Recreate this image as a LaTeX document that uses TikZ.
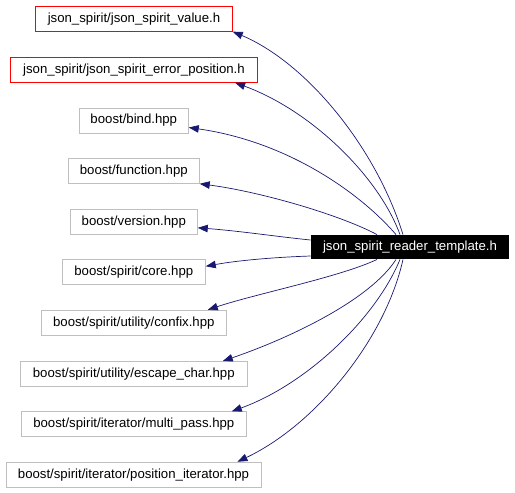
\documentclass[tikz,border=0pt]{standalone}
\usepackage{fontspec}
\setmainfont{Liberation Sans}
\usetikzlibrary{arrows.meta}
\definecolor{edgeblue}{HTML}{191970}
\definecolor{boxgray}{HTML}{BFBFBF}
\tikzset{
  base/.style={rectangle, inner sep=0pt, minimum height=25pt, font=\fontsize{13.2}{15}\selectfont, line width=0.9pt},
  redbox/.style={base, draw=red},
  graybox/.style={base, draw=boxgray},
  mainbox/.style={base, fill=black, text=white, minimum height=24pt},
  edge/.style={draw=edgeblue, line width=0.7pt, -{Triangle[length=10pt,width=7.5pt]}},
}
\begin{document}
\begin{tikzpicture}[x=1pt, y=-1pt]
\useasboundingbox (0,0) rectangle (515,493);
\node[redbox, minimum width=196.6pt] (n1) at (134,18.7) {json\_spirit/json\_spirit\_value.h};
\node[redbox, minimum width=247.4pt] (n2) at (134,69.8) {json\_spirit/json\_spirit\_error\_position.h};
\node[graybox, minimum width=109pt] (n3) at (133.8,120.5) {boost/bind.hpp};
\node[graybox, minimum width=131pt] (n4) at (133.8,170.8) {boost/function.hpp};
\node[graybox, minimum width=127pt] (n5) at (133.8,221.8) {boost/version.hpp};
\node[graybox, minimum width=143pt] (n6) at (133.8,272.3) {boost/spirit/core.hpp};
\node[graybox, minimum width=185pt] (n7) at (133.8,322.8) {boost/spirit/utility/confix.hpp};
\node[graybox, minimum width=227pt] (n8) at (133.8,374) {boost/spirit/utility/escape\_char.hpp};
\node[graybox, minimum width=225pt] (n9) at (133.8,424.3) {boost/spirit/iterator/multi\_pass.hpp};
\node[graybox, minimum width=255pt] (n10) at (133.5,474.7) {boost/spirit/iterator/position\_iterator.hpp};
\node[mainbox, minimum width=197.7pt] (main) at (410,247) {json\_spirit\_reader\_template.h};

\draw[edge] ([xshift=-7pt]main.north) .. controls (375,145) and (305,62) .. (n1.south east);
\draw[edge] ([xshift=-10pt]main.north) .. controls (378,175) and (310,110) .. ([xshift=-23pt]n2.south east);
\draw[edge] ([xshift=-14pt]main.north) .. controls (362,195) and (290,142) .. ([yshift=-7pt]n3.east);
\draw[edge] ([xshift=-33pt]main.north) .. controls (340,215) and (262,192) .. (n4.south east);
\draw[edge] ([yshift=7pt]main.west) .. controls (280,237) and (240,231) .. ([yshift=-6pt]n5.east);
\draw[edge] ([yshift=-9pt]main.west) .. controls (280,257) and (240,260) .. ([yshift=6pt]n6.east);
\draw[edge] ([xshift=-33pt]main.south) .. controls (340,277) and (255,294) .. ([xshift=-19pt]n7.north east);
\draw[edge] ([xshift=-14pt]main.south) .. controls (370,300) and (290,338) .. ([xshift=-25pt]n8.north east);
\draw[edge] ([xshift=-10pt]main.south) .. controls (375,320) and (305,385) .. ([xshift=-15pt]n9.north east);
\draw[edge] ([xshift=-7pt]main.south) .. controls (385,340) and (315,425) .. ([xshift=-24pt]n10.north east);
\end{tikzpicture}
\end{document}
